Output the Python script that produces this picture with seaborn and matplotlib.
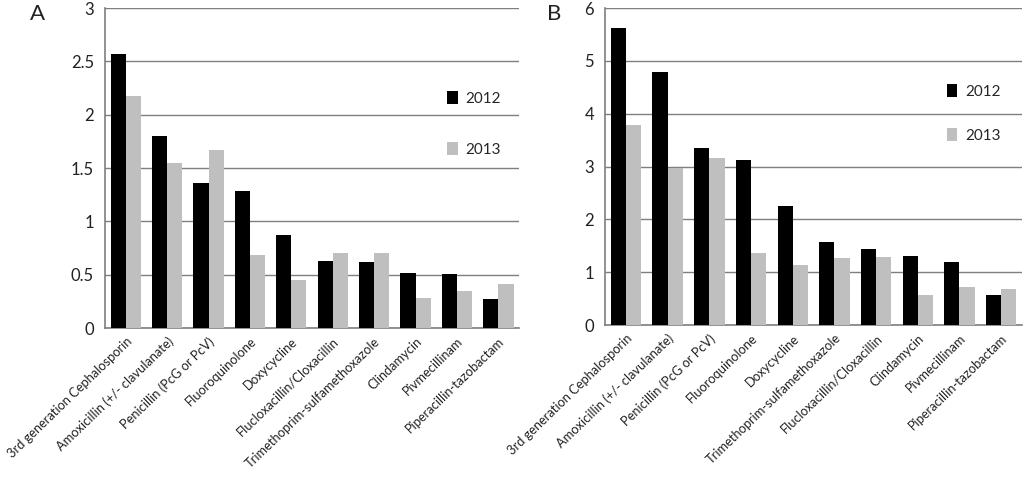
import matplotlib
matplotlib.use("Agg")
import matplotlib.pyplot as plt
import seaborn as sns
import pandas as pd

cats_a = ["3rd generation Cephalosporin", "Amoxicillin (+/- clavulanate)", "Penicillin (PcG or PcV)",
          "Fluoroquinolone", "Doxycycline", "Flucloxacillin/Cloxacillin", "Trimethoprim-sulfamethoxazole",
          "Clindamycin", "Pivmecillinam", "Piperacillin-tazobactam"]
a_2012 = [2.57, 1.80, 1.36, 1.29, 0.87, 0.63, 0.62, 0.52, 0.51, 0.27]
a_2013 = [2.18, 1.55, 1.67, 0.69, 0.45, 0.70, 0.70, 0.28, 0.35, 0.41]

cats_b = ["3rd generation Cephalosporin", "Amoxicillin (+/- clavulanate)", "Penicillin (PcG or PcV)",
          "Fluoroquinolone", "Doxycycline", "Trimethoprim-sulfamethoxazole", "Flucloxacillin/Cloxacillin",
          "Clindamycin", "Pivmecillinam", "Piperacillin-tazobactam"]
b_2012 = [5.62, 4.79, 3.36, 3.13, 2.25, 1.58, 1.43, 1.30, 1.20, 0.57]
b_2013 = [3.79, 2.97, 3.17, 1.36, 1.14, 1.26, 1.28, 0.56, 0.72, 0.69]

years = ["2012", "2013"]
yticks_a = [0, 0.5, 1, 1.5, 2, 2.5, 3]
ytick_labels_a = ["0", "0.5", "1", "1.5", "2", "2.5", "3"]
yticks_b = [0, 1, 2, 3, 4, 5, 6]
ytick_labels_b = ["0", "1", "2", "3", "4", "5", "6"]

sns.set_style("white")
plt.rcParams['font.family'] = ['Lato', 'DejaVu Sans']

def make_df(cats, v12, v13):
    return pd.DataFrame({
        "cat": cats + cats,
        "val": v12 + v13,
        "year": [years[0]] * len(cats) + [years[1]] * len(cats),
    })

fig = plt.figure(figsize=(10.24, 4.79), dpi=100)
ax_a = fig.add_axes([0.1025, 0.315, 0.4045, 0.668])
ax_b = fig.add_axes([0.591, 0.3215, 0.407, 0.6615])

palette = {"2012": "#000000", "2013": "#BFBFBF"}
grid_c = "#7f7f7f"

def style(ax, df, cats, yticks, ylabels, ymax, leg_anchor, spacing):
    sns.barplot(data=df, x="cat", y="val", hue="year", order=cats, hue_order=years,
                palette=palette, width=0.73, gap=0, saturation=1, ax=ax, zorder=3,
                edgecolor="none", linewidth=0)
    ax.set_xlim(-0.5, len(cats) - 0.5)
    ax.set_ylim(0, ymax)
    ax.set_yticks(yticks)
    ax.set_yticklabels(ylabels, fontsize=12, color="#222222")
    ax.yaxis.grid(True, color=grid_c, linewidth=1.0, zorder=0)
    ax.set_axisbelow(True)
    ax.set_xlabel("")
    ax.set_ylabel("")
    for s in ["top", "right"]:
        ax.spines[s].set_visible(False)
    for s in ["left", "bottom"]:
        ax.spines[s].set_color(grid_c)
        ax.spines[s].set_linewidth(1.2)
    ax.tick_params(axis="y", direction="out", length=4, color=grid_c, width=1, pad=4)
    ax.set_xticks(range(len(cats)))
    ax.set_xticklabels(cats, rotation=44, ha="right", rotation_mode="anchor",
                       fontsize=9.3, color="#222222")
    ax.tick_params(axis="x", which="major", length=0, pad=5)
    ax.set_xticks([i - 0.5 for i in range(len(cats) + 1)], minor=True)
    ax.tick_params(axis="x", which="minor", direction="out", length=4, color=grid_c, width=1)
    h, l = ax.get_legend_handles_labels()
    ax.legend(h, l, loc="upper left", bbox_to_anchor=leg_anchor, frameon=False,
              fontsize=11, handlelength=0.7, handleheight=0.9, handletextpad=0.5,
              labelspacing=spacing, borderaxespad=0)

style(ax_a, make_df(cats_a, a_2012, a_2013), cats_a, yticks_a, ytick_labels_a, 3,
      (0.812, 0.76), 2.4)
style(ax_b, make_df(cats_b, b_2012, b_2013), cats_b, yticks_b, ytick_labels_b, 6,
      (0.805, 0.78), 1.95)

fig.text(38 / 1024, 1 - 14 / 479, "A", fontsize=16, ha="center", va="center", color="#222222")
fig.text(554 / 1024, 1 - 14 / 479, "B", fontsize=16, ha="center", va="center", color="#222222")

fig.savefig("out.png", dpi=100)
